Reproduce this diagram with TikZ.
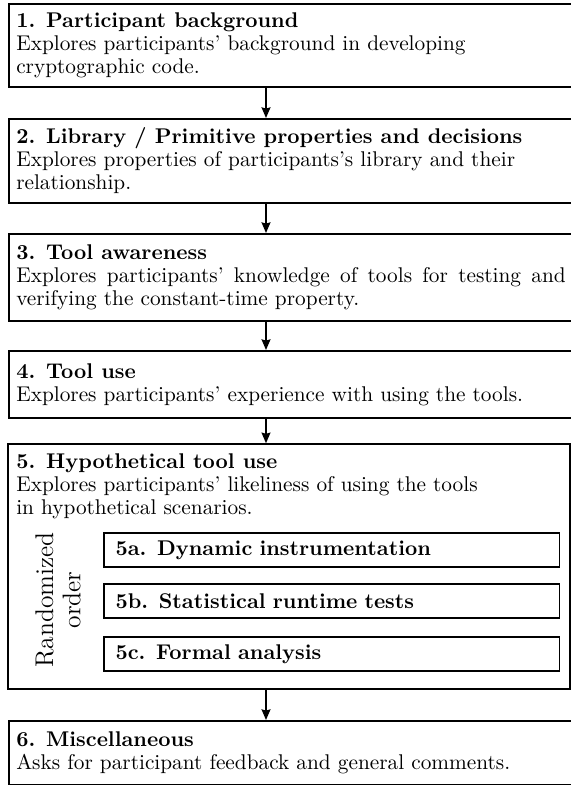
\documentclass[tikz,border=0pt]{standalone}
\usepackage{tikz}
\usetikzlibrary{arrows.meta,positioning,fit}

\begin{document}
\begin{tikzpicture}[
    x=0.4695pt, y=-0.4695pt,
    >={Stealth[length=5pt,width=4.2pt,inset=0.6pt]},
    every node/.style={font=\fontsize{10}{10.8}\selectfont},
    stagebox/.style={rectangle, draw, line width=0.75pt, anchor=north west, align=justify, text width=258pt, inner xsep=3.5pt, inner ysep=4pt, minimum height=#1},
    stagebox/.default=30pt,
    optionbox/.style={rectangle, draw, line width=0.75pt, anchor=north west, align=left, text width=203pt, inner xsep=5.5pt, minimum height=16pt, font=\fontsize{10}{10.8}\selectfont\bfseries},
    flow/.style={->, line width=0.7pt}
]
\useasboundingbox (0,0) rectangle (571,785);

% Stages
\node[stagebox=39pt] (b1) at (8,3) {\textbf{1. Participant background}\\
  Explores participants' background in developing\\ cryptographic code.};
\node[stagebox=39.5pt] (b2) at (8,118) {\textbf{2. Library / Primitive properties and decisions}\\
  Explores properties of participants's library and their\\ relationship.};
\node[stagebox=41pt] (b3) at (8,233) {\textbf{3. Tool awareness}\\
  Explores participants' knowledge of tools for testing and verifying the constant-time property.};
\node[stagebox=31.5pt] (b4) at (8,350) {\textbf{4. Tool use}\\
  Explores participants' experience with using the tools.};

% Stage 5 with randomized sub-blocks
\node[stagebox=39pt, draw=none] (t5) at (8,444) {\textbf{5. Hypothetical tool use}\\
  Explores participants' likeliness of using the tools\\ in hypothetical scenarios.};
\node[rotate=90, align=center, font=\fontsize{12}{12.7}\selectfont] (rnd) at (58,600) {Randomized\\order};
\node[optionbox] (o5a) at (103,532) {5a. Dynamic instrumentation};
\node[optionbox] (o5b) at (103,583) {5b. Statistical runtime tests};
\node[optionbox] (o5c) at (103,636) {5c. Formal analysis};
\coordinate (c5) at (570,689);
\node[draw, line width=0.75pt, inner sep=0pt, fit=(t5.north west)(c5)] (b5) {};

\node[stagebox=30pt] (b6) at (8,720) {\textbf{6. Miscellaneous}\\
  Asks for participant feedback and general comments.};

% Connectors
\coordinate (spine) at (266,0);
\foreach \from/\to in {b1/b2,b2/b3,b3/b4,b4/b5,b5/b6}
  \draw[flow] (\from.south -| spine) -- (\to.north -| spine);

\end{tikzpicture}
\end{document}
